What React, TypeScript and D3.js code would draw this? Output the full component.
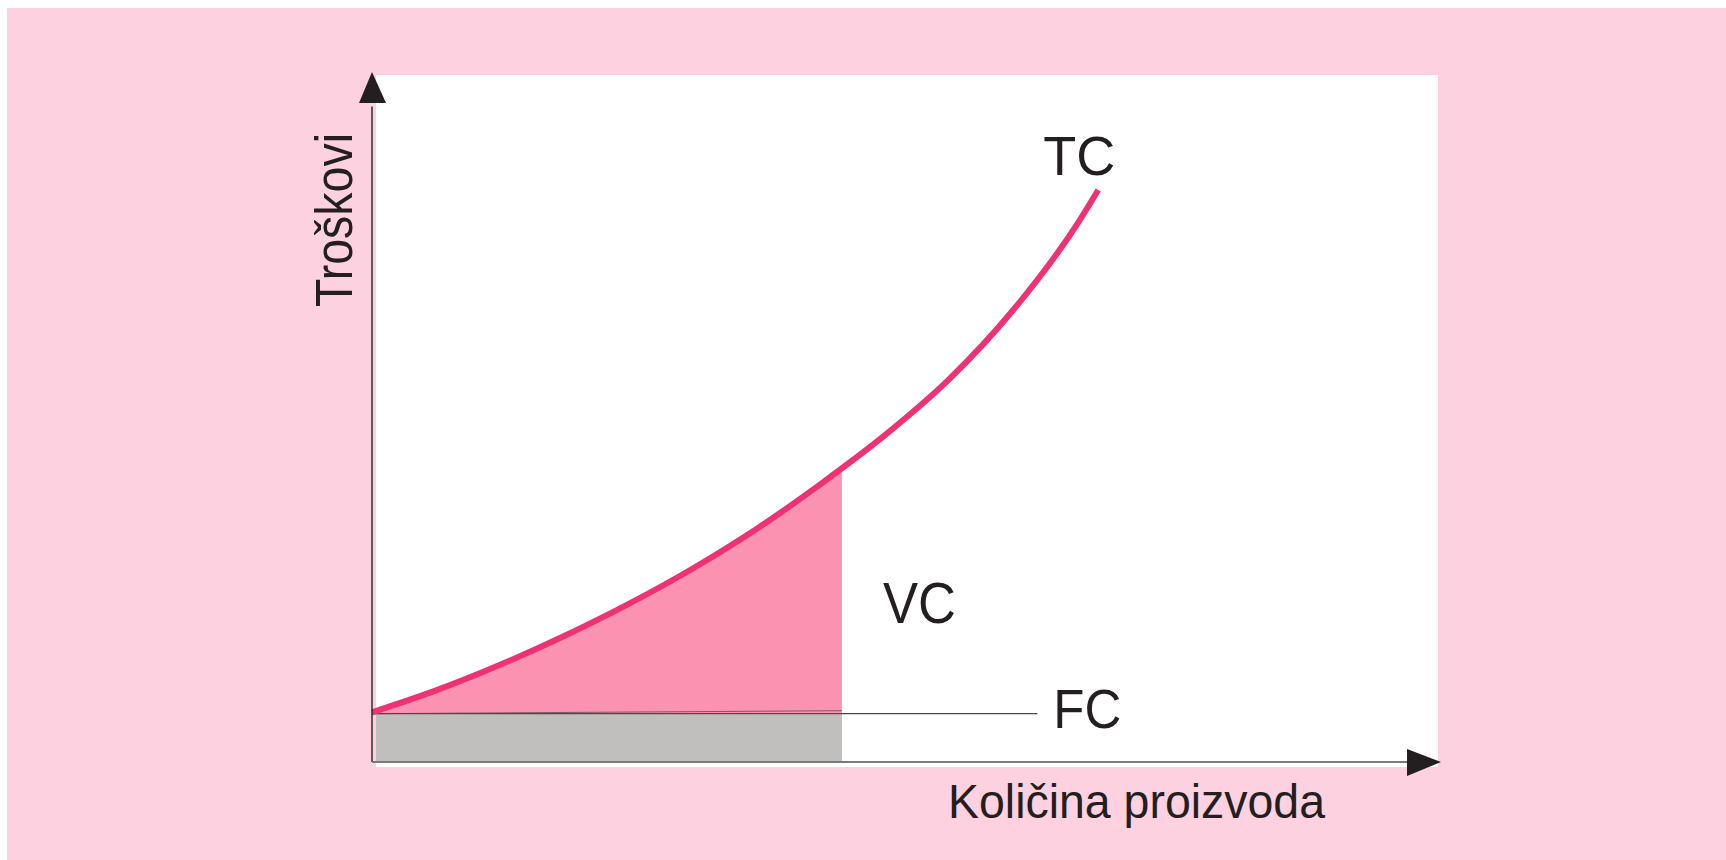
import * as d3 from 'd3'

// Quantity (x) and total cost (y), both in arbitrary 0-100 units
const quantity = [0, 6, 12, 18, 24, 30, 36, 42, 48, 54, 60, 66, 68]
const totalCost = [7.2, 10.38, 14.09, 18.26, 22.88, 28.01, 33.77, 40.28, 47.33, 55.41, 65.43, 77.88, 82.9]
const fixedCost = 7.0
const fcLineEnd = 62.3 // where the FC line stops
const vcEnd = 44.0 // right edge of the shaded VC / FC blocks

const labels = { tc: 'TC', vc: 'VC', fc: 'FC', x: 'Količina proizvoda', y: 'Troškovi' }

const W = 1726
const H = 860
const BG = '#fdd1e0'
const INK = '#231f20'
const FONT = '"Liberation Sans", Arial, Helvetica, sans-serif'

export default function App() {
  const x = d3.scaleLinear().domain([0, 100]).range([372, 1440])
  const y = d3.scaleLinear().domain([0, 100]).range([762, 72])

  const pts = quantity.map((q, i) => [q, totalCost[i]] as [number, number])

  const line = d3.line<[number, number]>()
    .x(d => x(d[0]))
    .y(d => y(d[1]))
    .curve(d3.curveMonotoneX)

  const area = d3.area<[number, number]>()
    .x(d => x(d[0]))
    .y0(y(fixedCost))
    .y1(d => y(d[1]))
    .curve(d3.curveMonotoneX)

  const x0 = x(0)
  const yBase = y(0)
  const yFC = y(fixedCost)
  const last = pts[pts.length - 1]

  return (
    <svg width={W} height={H} style={{ position: 'fixed', left: 0, top: 0, display: 'block' }}>
      <defs>
        <clipPath id="vc-clip">
          <rect x={x0} y={0} width={x(vcEnd) - x0} height={yFC + 0.5} />
        </clipPath>
      </defs>

      {/* background and white panel */}
      <rect x={7} y={8} width={W - 7} height={H - 8} fill={BG} />
      <rect x={x0 + 4} y={75} width={1438 - x0 - 4} height={yBase + 5 - 75} fill="#ffffff" />

      {/* FC block */}
      <rect x={x0 + 4} y={yFC} width={x(vcEnd) - x0 - 4} height={yBase - yFC} fill="#c0bfbd" />

      {/* VC area between FC and TC */}
      <path d={area(pts) || ''} fill="#fb92b1" clipPath="url(#vc-clip)" />
      <line x1={x0} y1={yFC} x2={x(vcEnd)} y2={yFC - 3} stroke="#444" strokeWidth={1} opacity={0.7} />

      {/* FC line */}
      <line x1={x0} y1={yFC} x2={x(fcLineEnd)} y2={yFC} stroke="#4a4a4a" strokeWidth={1.2} />

      {/* TC curve */}
      <path d={line(pts) || ''} fill="none" stroke="#ef3275" strokeWidth={6} />

      {/* axes */}
      <line x1={x0} y1={yBase} x2={x0} y2={y(95)} stroke={INK} strokeWidth={1.4} />
      <polygon points={`${x0},${y(100)} ${x0 - 13},${y(100) + 31} ${x0 + 14},${y(100) + 31}`} fill={INK} />
      <line x1={x0} y1={yBase} x2={x(97)} y2={yBase} stroke="#7a7a7a" strokeWidth={2} />
      <polygon points={`${x(100) + 1},${yBase} ${x(100) - 33},${yBase - 13} ${x(100) - 33},${yBase + 14}`} fill={INK} />

      {/* curve labels */}
      <text x={x(last[0]) - 55} y={y(last[1]) - 15} fontFamily={FONT} fontSize={56} fill={INK}
        textLength={72} lengthAdjust="spacingAndGlyphs">{labels.tc}</text>
      <text x={883} y={623} fontFamily={FONT} fontSize={58} fill={INK}
        textLength={73} lengthAdjust="spacingAndGlyphs">{labels.vc}</text>
      <text x={x(fcLineEnd) + 16} y={yFC + 14} fontFamily={FONT} fontSize={55} fill={INK}
        textLength={68} lengthAdjust="spacingAndGlyphs">{labels.fc}</text>

      {/* axis titles */}
      <text x={948} y={818} fontFamily={FONT} fontSize={48} fill={INK}
        textLength={377} lengthAdjust="spacingAndGlyphs">{labels.x}</text>
      <text transform={`translate(352,307) rotate(-90)`} fontFamily={FONT} fontSize={51} fill={INK}
        textLength={174} lengthAdjust="spacingAndGlyphs">{labels.y}</text>
    </svg>
  )
}
